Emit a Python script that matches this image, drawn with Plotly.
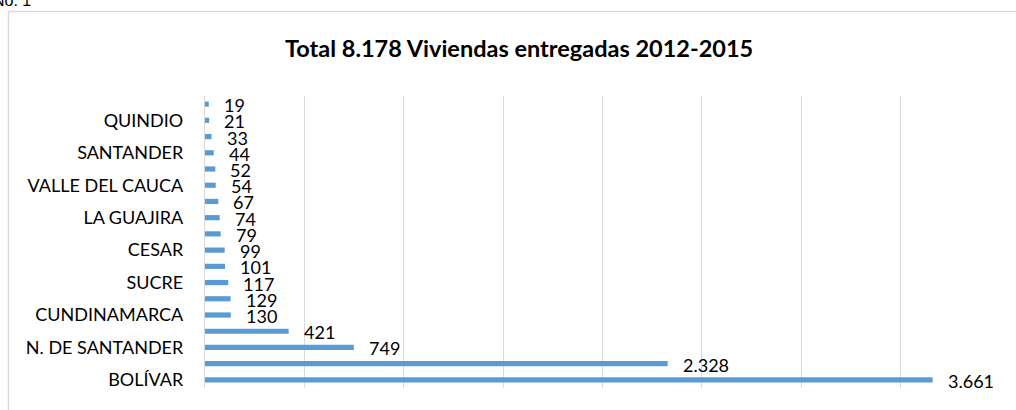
import plotly.graph_objects as go

categories = ["BOLÍVAR", "", "N. DE SANTANDER", "", "CUNDINAMARCA", "", "SUCRE", "",
              "CESAR", "", "LA GUAJIRA", "", "VALLE DEL CAUCA", "", "SANTANDER", "",
              "QUINDIO", ""]
values = [3661, 2328, 749, 421, 130, 129, 117, 101, 99, 79, 74, 67, 54, 52, 44, 33, 21, 19]
title_text = "Total 8.178 Viviendas entregadas 2012-2015"
caption_text = "Gráfico No. 1"

positions = list(range(len(values)))
labels = [f"{v:,}".replace(",", ".") for v in values]

W, H = 1016, 410
L, R, T, B = 205, 16, 96, 22
pw, ph = W - L - R, H - T - B

def px_x(p):
    return (p - L) / pw

def px_y(p):
    return (H - B - p) / ph

FONT = "Lato"

fig = go.Figure()
fig.add_trace(go.Bar(
    x=values, y=positions, orientation="h", width=0.32,
    marker=dict(color="#5B9BD5", line=dict(width=0)),
    hoverinfo="skip",
))

for v, p, t in zip(values, positions, labels):
    fig.add_annotation(x=v, y=p, xref="x", yref="y", text=t, showarrow=False,
                       xanchor="left", yanchor="middle", xshift=13, yshift=-1,
                       font=dict(family=FONT, size=18, color="#000000"))

fig.add_annotation(x=0.5, y=px_y(48), xref="paper", yref="paper", text=f"<b>{title_text}</b>",
                   showarrow=False, xanchor="center", yanchor="middle",
                   xshift=(519 - (L + pw / 2)),
                   font=dict(family=FONT, size=23.5, color="#000000"))

fig.add_annotation(x=px_x(33), y=px_y(11), xref="paper", yref="paper", text=caption_text,
                   showarrow=False, xanchor="right", yanchor="bottom",
                   font=dict(family="Liberation Sans", size=16, color="#000000"))

# chart frame (left and top edges visible)
fig.add_shape(type="line", xref="paper", yref="paper",
              x0=px_x(8.5), x1=px_x(8.5), y0=px_y(430), y1=px_y(11.5),
              line=dict(color="#D9D9D9", width=1.5))
fig.add_shape(type="line", xref="paper", yref="paper",
              x0=px_x(8.5), x1=px_x(1030), y0=px_y(11.5), y1=px_y(11.5),
              line=dict(color="#D9D9D9", width=1.5))

fig.update_layout(
    width=W, height=H,
    margin=dict(l=L, r=R, t=T, b=B, pad=0),
    paper_bgcolor="white", plot_bgcolor="white",
    showlegend=False,
    xaxis=dict(range=[0, 4000], dtick=500, showgrid=True, gridcolor="#D9D9D9", gridwidth=1.3,
               showticklabels=False, zeroline=False, showline=False, fixedrange=True),
    yaxis=dict(range=[-0.5, len(values) - 0.5], tickmode="array", tickvals=positions,
               ticktext=categories, showgrid=False, zeroline=False,
               showline=True, linecolor="#D9D9D9", linewidth=1.3,
               ticks="outside", ticklen=17, tickcolor="rgba(0,0,0,0)",
               tickfont=dict(family=FONT, size=18, color="#000000"), fixedrange=True),
)

fig.write_html("out.html", config={"displayModeBar": False},
               post_script="document.body.style.margin='0';document.body.style.overflow='hidden';")
